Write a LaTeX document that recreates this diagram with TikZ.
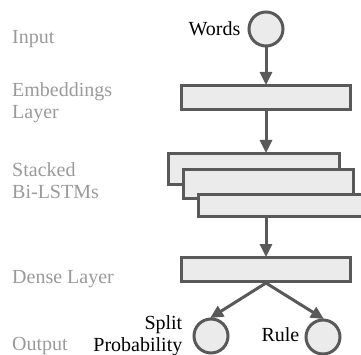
\documentclass[tikz,border=0pt]{standalone}
\usepackage{fontspec}
\setmainfont{Liberation Serif}
\usetikzlibrary{arrows.meta,positioning}
\definecolor{edgegray}{HTML}{595959}
\definecolor{boxfill}{HTML}{EBEBEB}
\definecolor{labelgray}{HTML}{9A9A9A}

\begin{document}
\begin{tikzpicture}[x=1pt,y=-1pt]
\tikzset{
  layerbox/.style={rectangle,draw=edgegray,fill=boxfill,line width=3pt,inner sep=0pt},
  unit/.style={circle,draw=edgegray,fill=boxfill,line width=3pt,inner sep=0pt,minimum size=34pt},
  sidelabel/.style={anchor=base west,align=left,text=labelgray,inner sep=0pt,font=\fontsize{20}{22}\selectfont},
  unitlabel/.style={align=right,inner sep=0pt,font=\fontsize{20}{22}\selectfont},
  flow/.style={-{Triangle[length=13pt,width=12pt]},draw=edgegray,fill=edgegray,line width=3pt,shorten >=-1pt}
}
\useasboundingbox (0,0) rectangle (361,355);
% layer names on the left
\node[sidelabel] (t_input) at (12,44) {Input};
\node[sidelabel] (t_embed) at (12,119) {Embeddings\\Layer};
\node[sidelabel] (t_lstm) at (12,199) {Stacked\\Bi-LSTMs};
\node[sidelabel] (t_dense) at (12,283) {Dense Layer};
\node[sidelabel] (t_output) at (12,350) {Output};
% network
\node[unit] (n_words) at (266,29) {};
\node[layerbox,minimum width=169pt,minimum height=24pt] (n_embed) at (266,97.5) {};
\node[layerbox,minimum width=171pt,minimum height=31pt] (n_lstm1) at (254,169) {};
\node[layerbox,minimum width=170pt,minimum height=29pt] (n_lstm2) at (268.5,184) {};
\node[layerbox,minimum width=170pt,minimum height=22pt] (n_lstm3) at (283.5,205.5) {};
\node[layerbox,minimum width=169pt,minimum height=24pt] (n_dense) at (266,269.5) {};
\node[unit] (n_split) at (211,336) {};
\node[unit] (n_rule) at (323,337) {};
\node[unitlabel,left=7pt of n_words] (l_words) {Words};
\node[unitlabel,left=10pt of n_split] (l_split) {Split\\Probability};
\node[unitlabel,left=5pt of n_rule,yshift=2pt] (l_rule) {Rule};
\draw[flow] (n_words) -- (n_embed);
\draw[flow] (n_embed.south) -- (n_embed.south |- n_lstm1.north);
\draw[flow] (n_dense.north |- n_lstm3.south) -- (n_dense.north);
\draw[flow] (n_dense.south) -- (n_split.north);
\draw[flow] (n_dense.south) -- (n_rule.north);
\end{tikzpicture}
\end{document}
